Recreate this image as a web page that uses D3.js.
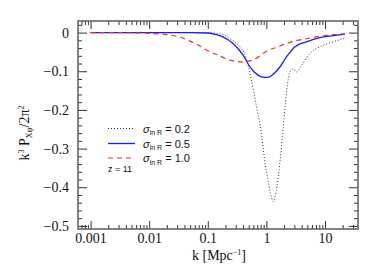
<!DOCTYPE html>
<html>
<head>
<meta charset="utf-8">
<script src="https://cdn.jsdelivr.net/npm/d3@7"></script>
<style>
  body { margin: 0; background: #fff; }
  svg { display: block; }
</style>
</head>
<body>
<div id="chart"></div>
<script>
// values
const kDot = [0.001, 0.05, 0.1, 0.16, 0.24, 0.33, 0.455, 0.55, 0.675, 0.82, 0.935, 1.065, 1.22, 1.31, 1.48, 1.69, 1.92, 2.11, 2.34, 2.5, 2.85, 3.26, 3.97, 5.5, 8.15, 13.8, 21.8];
const pDot = [0, 0, -0.0005, -0.003, -0.016, -0.033, -0.067, -0.12, -0.19, -0.26, -0.33, -0.382, -0.425, -0.437, -0.408, -0.339, -0.252, -0.183, -0.124, -0.102, -0.094, -0.102, -0.085, -0.054, -0.037, -0.024, -0.014];

const kBlue = [0.001, 0.05, 0.1, 0.14, 0.18, 0.27, 0.4, 0.52, 0.72, 0.93, 1.1, 1.3, 1.7, 2.2, 3.05, 4.8, 8.15, 13.8, 21.8];
const pBlue = [0, 0, -0.001, -0.005, -0.011, -0.028, -0.058, -0.088, -0.11, -0.116, -0.115, -0.108, -0.089, -0.063, -0.037, -0.024, -0.013, -0.008, -0.004];

const kRed = [0.001, 0.005, 0.01, 0.02, 0.037, 0.05, 0.072, 0.1, 0.16, 0.2, 0.27, 0.4, 0.55, 0.75, 1.0, 1.5, 2.2, 3.2, 4.8, 7, 10.6, 15, 21.8];
const pRed = [0, -0.0005, -0.002, -0.005, -0.014, -0.022, -0.034, -0.047, -0.06, -0.067, -0.073, -0.076, -0.072, -0.062, -0.048, -0.038, -0.028, -0.021, -0.016, -0.011, -0.007, -0.005, -0.003];

const legendLabels = ["0.2", "0.5", "1.0"];
const xMajor = [0.001, 0.01, 0.1, 1, 10];
const xMajorLabels = ["0.001", "0.01", "0.1", "1", "10"];
const yMajor = [0, -0.1, -0.2, -0.3, -0.4, -0.5];

const W = 390, H = 271;
const margin = { top: 21, right: 32, bottom: 42, left: 78 };
const w = W - margin.left - margin.right;
const h = H - margin.top - margin.bottom;

const svg = d3.select("#chart").append("svg")
  .attr("width", W).attr("height", H);
const g = svg.append("g")
  .attr("transform", `translate(${margin.left},${margin.top})`);

const x = d3.scaleLog().domain([0.00061, 36.6]).range([0, w]);
const y = d3.scaleLinear().domain([-0.508, 0.03]).range([h, 0]);

// minor ticks
const xMinor = [];
[0.0001, 0.001, 0.01, 0.1, 1, 10].forEach(d => {
  for (let m = 2; m <= 9; m++) {
    const v = d * m;
    if (v > x.domain()[0] && v < x.domain()[1]) xMinor.push(v);
  }
});
const yMinor = d3.range(-25, 2).map(i => i * 0.02).filter(v => !yMajor.some(m => Math.abs(m - v) < 1e-9));

const tickColor = "#333";
const serif = "'Liberation Serif', 'DejaVu Serif', serif";

// bottom and top axes
g.append("g").attr("transform", `translate(0,${h})`)
  .call(d3.axisBottom(x).tickValues(xMinor).tickSize(-4).tickFormat(""));
g.append("g").attr("transform", `translate(0,${h})`)
  .call(d3.axisBottom(x).tickValues(xMajor).tickSize(-8).tickPadding(4)
    .tickFormat((d, i) => xMajorLabels[i]));
g.append("g")
  .call(d3.axisTop(x).tickValues(xMinor).tickSize(-4).tickFormat(""));
g.append("g")
  .call(d3.axisTop(x).tickValues(xMajor).tickSize(-8).tickFormat(""));

// left and right axes
g.append("g")
  .call(d3.axisLeft(y).tickValues(yMinor).tickSize(-4).tickFormat(""));
g.append("g")
  .call(d3.axisLeft(y).tickValues(yMajor).tickSize(-9).tickPadding(9)
    .tickFormat(d => d === 0 ? "0" : d3.format(".1f")(d)));
g.append("g").attr("transform", `translate(${w},0)`)
  .call(d3.axisRight(y).tickValues(yMinor).tickSize(-4).tickFormat(""));
g.append("g").attr("transform", `translate(${w},0)`)
  .call(d3.axisRight(y).tickValues(yMajor).tickSize(-9).tickFormat(""));

g.selectAll(".domain").remove();
g.selectAll(".tick line").attr("stroke", tickColor).attr("stroke-width", 1);
g.selectAll("g").attr("font-family", null).attr("font-size", null);
g.selectAll(".tick text")
  .attr("font-family", serif)
  .attr("font-size", 14)
  .attr("fill", "#111");

// frame
g.append("rect")
  .attr("width", w).attr("height", h)
  .attr("fill", "none")
  .attr("stroke", "#666")
  .attr("stroke-width", 1.6);

// curves
const line = d3.line()
  .x(d => x(d[0]))
  .y(d => y(d[1]))
  .curve(d3.curveMonotoneX);

const series = [
  { k: kDot, p: pDot, color: "#333", dash: "1,2", width: 1 },
  { k: kBlue, p: pBlue, color: "#1a1aff", dash: null, width: 1.3 },
  { k: kRed, p: pRed, color: "#e8302a", dash: "5,4", width: 1.2 }
];

series.forEach(s => {
  g.append("path")
    .datum(s.k.map((k, i) => [k, s.p[i]]))
    .attr("d", line)
    .attr("fill", "none")
    .attr("stroke", s.color)
    .attr("stroke-width", s.width)
    .attr("stroke-dasharray", s.dash);
});

// legend
const legendY = [128.5, 143.5, 158];
series.forEach((s, i) => {
  const ly = legendY[i];
  svg.append("line")
    .attr("x1", 108).attr("x2", 135)
    .attr("y1", ly).attr("y2", ly)
    .attr("stroke", s.color)
    .attr("stroke-width", s.width)
    .attr("stroke-dasharray", s.dash);
  const t = svg.append("text")
    .attr("x", 143).attr("y", ly + 4)
    .attr("font-family", "'Liberation Sans', Arial, sans-serif")
    .attr("font-size", 11)
    .attr("fill", "#111");
  t.append("tspan").attr("font-style", "italic").text("σ");
  t.append("tspan").attr("dy", 2.5).attr("font-size", 7).text("ln R");
  t.append("tspan").attr("dy", -2.5).text(" = " + legendLabels[i]);
});

svg.append("text")
  .attr("x", 108).attr("y", 172)
  .attr("font-family", "'Liberation Sans', Arial, sans-serif")
  .attr("font-size", 9)
  .attr("fill", "#111")
  .text("z = 11");

// axis titles
const xt = svg.append("text")
  .attr("x", 219).attr("y", 260)
  .attr("text-anchor", "middle")
  .attr("font-family", serif)
  .attr("font-size", 14)
  .attr("fill", "#111");
xt.append("tspan").text("k  [Mpc");
xt.append("tspan").attr("dy", -5).attr("font-size", 8).text("−1");
xt.append("tspan").attr("dy", 5).text("]");

const yt = svg.append("text")
  .attr("transform", "translate(29,133) rotate(-90)")
  .attr("text-anchor", "middle")
  .attr("font-family", serif)
  .attr("font-size", 14)
  .attr("fill", "#111");
yt.append("tspan").text("k");
yt.append("tspan").attr("dy", -5).attr("font-size", 8).text("3");
yt.append("tspan").attr("dy", 5).text(" P");
yt.append("tspan").attr("dy", 3).attr("font-size", 8).text("Xψ");
yt.append("tspan").attr("dy", -3).text("/2π");
yt.append("tspan").attr("dy", -5).attr("font-size", 8).text("2");
</script>
</body>
</html>
